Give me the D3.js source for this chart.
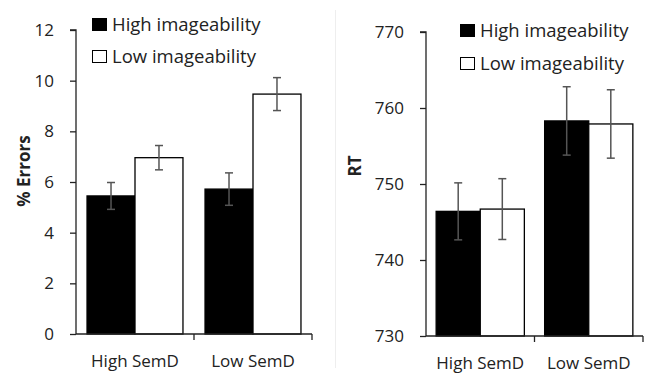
<!DOCTYPE html>
<html><head><meta charset="utf-8">
<script src="https://cdn.jsdelivr.net/npm/d3@7"></script>
<style>body{margin:0;background:#fff}svg{display:block}text{font-family:"Open Sans",sans-serif;fill:#222}</style>
</head><body>
<svg id="c" width="645" height="375"></svg>
<script>
const categories = ["High SemD", "Low SemD"];
const seriesNames = ["High imageability", "Low imageability"];
const errHigh = [5.45, 5.72];
const errLow = [6.96, 9.47];
const errHighSE = [0.53, 0.64];
const errLowSE = [0.48, 0.65];
const errTicks = [0, 2, 4, 6, 8, 10, 12];
const rtHigh = [746.4, 758.3];
const rtLow = [746.7, 757.9];
const rtHighSE = [3.75, 4.5];
const rtLowSE = [4.0, 4.5];
const rtTicks = [730, 740, 750, 760, 770];

const svg = d3.select("#c");
const fills = ["#000", "#fff"];

svg.append("line").attr("x1",335.5).attr("x2",335.5).attr("y1",10).attr("y2",368)
  .attr("stroke","#eee").attr("stroke-width",1);

function panel(o){
  const g = svg.append("g");
  const y = d3.scaleLinear().domain(o.domain).range([o.y0, o.y1]);
  const x0 = d3.scaleBand().domain(categories).range([o.x0, o.x1]).paddingInner(0).paddingOuter(0);
  const x1 = d3.scaleBand().domain(seriesNames).range([0, x0.bandwidth()]).paddingInner(0).paddingOuter(o.pad);
  const data = [];
  categories.forEach((c,i)=>{
    data.push({c, s:seriesNames[0], v:o.high[i], e:o.highSE[i], k:0});
    data.push({c, s:seriesNames[1], v:o.low[i], e:o.lowSE[i], k:1});
  });
  g.selectAll("rect.bar").data(data).join("rect").attr("class","bar")
    .attr("x", d=>x0(d.c)+x1(d.s)).attr("width", x1.bandwidth())
    .attr("y", d=>y(d.v)).attr("height", d=>y(o.domain[0])-y(d.v))
    .attr("fill", d=>fills[d.k]).attr("stroke","#000").attr("stroke-width",1.3);
  const eb = g.selectAll("g.eb").data(data).join("g").attr("class","eb")
    .attr("transform", d=>`translate(${x0(d.c)+x1(d.s)+x1.bandwidth()/2},0)`);
  eb.append("line").attr("y1",d=>y(d.v+d.e)).attr("y2",d=>y(d.v-d.e)).attr("stroke","#555").attr("stroke-width",1.5);
  eb.append("line").attr("x1",-4).attr("x2",4).attr("y1",d=>y(d.v+d.e)).attr("y2",d=>y(d.v+d.e)).attr("stroke","#555").attr("stroke-width",1.5);
  eb.append("line").attr("x1",-4).attr("x2",4).attr("y1",d=>y(d.v-d.e)).attr("y2",d=>y(d.v-d.e)).attr("stroke","#555").attr("stroke-width",1.5);

  const ya = g.append("g").attr("transform",`translate(${o.x0},0)`)
    .call(d3.axisLeft(y).tickValues(o.ticks).tickSize(6).tickPadding(16).tickSizeOuter(0));
  ya.select(".domain").attr("stroke","#222").attr("stroke-width",1.3).attr("d",`M-6,${o.y1}H0V${o.y0}`);
  ya.selectAll(".tick line").attr("stroke","#222").attr("stroke-width",1.3);
  ya.selectAll(".tick text").attr("font-size",17).attr("font-family","Open Sans").attr("fill","#222");

  const xa = g.append("g").attr("transform",`translate(0,${o.y0})`)
    .call(d3.axisBottom(x0).tickSize(0).tickPadding(21));
  xa.select(".domain").attr("stroke","#222").attr("stroke-width",1.3).attr("d",`M${o.x0},0H${o.x1}`);
  xa.selectAll(".tick text").attr("font-size",17).attr("font-family","Open Sans").attr("fill","#222");
  g.selectAll("line.xt").data([...categories.map(c=>x0(c)), o.x1].slice(1)).join("line").attr("class","xt")
    .attr("x1",d=>d).attr("x2",d=>d).attr("y1",o.y0).attr("y2",o.y0+6).attr("stroke","#222").attr("stroke-width",1.3);

  g.append("text").attr("transform",`translate(${o.tx},${o.ty}) rotate(-90)`)
    .attr("text-anchor","middle").attr("font-weight","bold").attr("font-size",17).text(o.title);

  const lg = g.selectAll("g.lg").data(seriesNames).join("g").attr("class","lg")
    .attr("transform",(d,i)=>`translate(${o.lx},${o.ly + i*o.lgap})`);
  lg.append("rect").attr("x",0.5).attr("y",-12.5).attr("width",14).attr("height",12)
    .attr("fill",(d,i)=>fills[i]).attr("stroke","#000").attr("stroke-width",1);
  lg.append("text").attr("x",20).attr("y",0).attr("font-size",18.5).text(d=>d);
}

panel({domain:[0,12], ticks:errTicks, y0:334, y1:30, x0:76, x1:312, pad:0.23,
  high:errHigh, low:errLow, highSE:errHighSE, lowSE:errLowSE,
  title:"% Errors", tx:30, ty:171, lx:92, ly:31, lgap:32});
panel({domain:[730,770], ticks:rtTicks, y0:336, y1:32, x0:426, x1:643, pad:0.23,
  high:rtHigh, low:rtLow, highSE:rtHighSE, lowSE:rtLowSE,
  title:"RT", tx:361, ty:166, lx:460, ly:37, lgap:33});
</script>
</body></html>
